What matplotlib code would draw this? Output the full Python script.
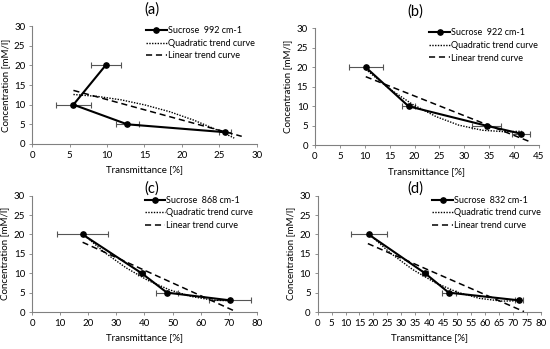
import matplotlib
matplotlib.use("Agg")
import matplotlib.pyplot as plt

plt.rcParams['font.family'] = ['Lato', 'DejaVu Sans']

conc = [20, 10, 5, 3]

# panel (a) 992 cm-1
a_trans = [9.8, 5.5, 12.7, 25.8]
a_err = [2.0, 2.3, 1.5, 0.8]
a_quad_x = [5.5, 8.7, 11.9, 15.1, 18.4, 21.6, 24.8, 27.0]
a_quad_y = [12.59, 12.11, 11.22, 9.91, 8.19, 6.06, 3.51, 1.5]
a_lin_x = [5.5, 28.0]
a_lin_y = [13.63, 1.95]

# panel (b) 922 cm-1
b_trans = [10.2, 18.8, 34.5, 41.3]
b_err = [3.4, 1.3, 2.9, 1.8]
b_quad_x = [10.2, 14.9, 19.6, 24.3, 28.9, 33.6, 38.3, 41.5]
b_quad_y = [19.49, 14.53, 10.49, 7.37, 5.16, 3.86, 3.47, 3.6]
b_lin_x = [10.2, 43.0]
b_lin_y = [17.59, 1.01]

# panel (c) 868 cm-1
c_trans = [18.0, 39.0, 48.0, 70.5]
c_err = [9.2, 1.2, 4.0, 7.5]
c_quad_x = [18.0, 25.7, 33.4, 41.1, 48.9, 56.6, 64.3, 70.5]
c_quad_y = [20.18, 15.42, 11.43, 8.2, 5.72, 4.01, 3.06, 2.9]
c_lin_x = [18.0, 72.0]
c_lin_y = [17.99, 0.27]

# panel (d) 832 cm-1
d_trans = [18.3, 38.5, 47.0, 72.3]
d_err = [6.4, 1.0, 2.5, 1.5]
d_quad_x = [18.0, 26.0, 34.0, 42.0, 50.0, 58.0, 66.0, 72.3]
d_quad_y = [20.4, 15.25, 10.99, 7.62, 5.13, 3.53, 2.81, 2.9]
d_lin_x = [18.0, 74.0]
d_lin_y = [17.65, 0.11]

panels = [
    ("(a)", "992", a_trans, a_err, a_quad_x, a_quad_y, a_lin_x, a_lin_y, 30, 5,
     [0.0587, 0.5874, 0.408, 0.338], 0.49, 9, 0.533),
    ("(b)", "922", b_trans, b_err, b_quad_x, b_quad_y, b_lin_x, b_lin_y, 45, 5,
     [0.5727, 0.5837, 0.4073, 0.3352], 0.495, 9, 0.446),
    ("(c)", "868", c_trans, c_err, c_quad_x, c_quad_y, c_lin_x, c_lin_y, 80, 10,
     [0.0582, 0.106, 0.409, 0.3332], 0.485, 1, 0.533),
    ("(d)", "832", d_trans, d_err, d_quad_x, d_quad_y, d_lin_x, d_lin_y, 80, 5,
     [0.5776, 0.106, 0.4055, 0.3332], 0.497, 1, 0.436),
]

fig = plt.figure(figsize=(5.5, 3.49), dpi=100)

for title, band, tr, err, qx, qy, lx, ly, xmax, xstep, pos, lgx, tpad, tx in panels:
    ax = fig.add_axes(pos)
    ax.errorbar(tr, conc, xerr=err, fmt='none', ecolor='#555555',
                elinewidth=0.8, capsize=2, capthick=0.8, zorder=2)
    ax.plot(tr, conc, color='black', lw=1.5, marker='o', ms=3.8,
            label="Sucrose  %s cm-1" % band, zorder=4)
    ax.plot(qx, qy, color='black', lw=1.0, ls=(0, (1, 1)),
            label="Quadratic trend curve", zorder=3)
    ax.plot(lx, ly, color='black', lw=1.1, ls=(0, (4, 2.5)),
            label="Linear trend curve", zorder=3)

    ax.set_xlim(0, xmax)
    ax.set_ylim(0, 30)
    ax.set_xticks(range(0, xmax + 1, xstep))
    ax.set_yticks(range(0, 31, 5))
    for s in ['top', 'right']:
        ax.spines[s].set_visible(False)
    for s in ['left', 'bottom']:
        ax.spines[s].set_color('#808080')
        ax.spines[s].set_linewidth(0.8)
    ax.tick_params(labelsize=7, length=2, width=0.6, color='#808080', pad=3)
    ax.set_xlabel("Transmittance [%]", fontsize=7, labelpad=4)
    ax.set_ylabel("Concentration [mM/l]", fontsize=7, labelpad=3)
    ax.set_title(title, fontsize=10.5, pad=tpad, x=tx)

    ax.legend(loc='upper left', bbox_to_anchor=(lgx, 1.03), frameon=False,
              fontsize=6.5, handlelength=2.3, handletextpad=0.1,
              labelspacing=0.4, numpoints=1, borderaxespad=0)

fig.savefig("out.png", dpi=100)
